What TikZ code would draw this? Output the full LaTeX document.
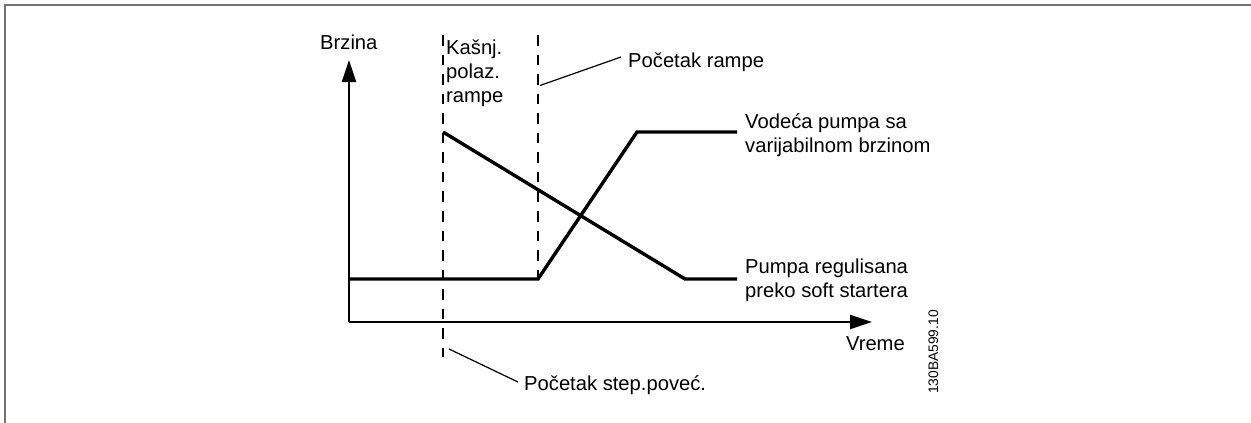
\documentclass[tikz,border=0pt]{standalone}
\usepackage{fontspec}
\setmainfont{Liberation Sans}
\usetikzlibrary{arrows.meta, positioning}
\tikzset{
  txt/.style={inner sep=0pt, align=left, font=\fontsize{20.2}{24}\selectfont},
  axis/.style={line width=1.8pt, -{Triangle[length=22pt, width=14pt]}},
  curve/.style={line width=3.4pt},
  guide/.style={line width=2pt, dash pattern=on 10.5pt off 9.06pt},
  pointer/.style={line width=1.2pt}
}

\begin{document}
\begin{tikzpicture}[x=1pt,y=-1pt]
  \useasboundingbox (0,0) rectangle (1251,423);
  \draw[line width=2pt, black!55] (5,423) -- (5,5) -- (1251,5);
  \coordinate (origin) at (349,322);
  \coordinate (ytop) at (349,60);
  \coordinate (xend) at (872,322);
  \draw[axis] (origin) -- (ytop);
  \draw[axis] (origin) -- (xend);
  \node[txt, anchor=base west] (brzina) at (320,49) {Brzina};
  \node[txt, anchor=base east] (vreme) at (905,350) {Vreme};
  \coordinate (d1top) at (443,35);
  \coordinate (d1bot) at (443,357);
  \coordinate (d2top) at (538,35);
  \coordinate (d2bot) at (538,279);
  \draw[guide] (d1top) -- (d1bot);
  \draw[guide] (d2top) -- (d2bot);
  \node[txt, anchor=base west] (kasnj) at (446,102) {Kašnj.\\polaz.\\rampe};
  \node[txt, anchor=base west] (rampa) at (628,67) {Početak rampe};
  \coordinate (rampaptr) at (540,85.5);
  \coordinate (rampaend) at (621,57);
  \draw[pointer] (rampaptr) -- (rampaend);
  \node[txt, anchor=base west] (stepnode) at (524,390) {Početak step.poveć.};
  \coordinate (stepptr) at (449,349);
  \coordinate (stepend) at (518,382);
  \draw[pointer] (stepptr) -- (stepend);
  \node[txt, anchor=base west] (vodeca) at (745,152) {Vodeća pumpa sa\\varijabilnom brzinom};
  \node[txt, anchor=base west] (pumpa) at (745,297) {Pumpa regulisana\\preko soft startera};
  \coordinate (lowstart) at (349,279);
  \coordinate (bend) at (538,279);
  \coordinate (topstart) at (637,132);
  \coordinate (topend) at (737,132);
  \draw[curve] (lowstart) -- (bend) -- (topstart) -- (topend);
  \coordinate (fallstart) at (443,132);
  \coordinate (fallend) at (685,279);
  \coordinate (lowend) at (737,279);
  \draw[curve] (fallstart) -- (fallend) -- (lowend);
  \node[rotate=90, anchor=base west, inner sep=0pt, font=\fontsize{13.8}{16}\selectfont] (code) at (938,394) {130BA599.10};
\end{tikzpicture}
\end{document}
